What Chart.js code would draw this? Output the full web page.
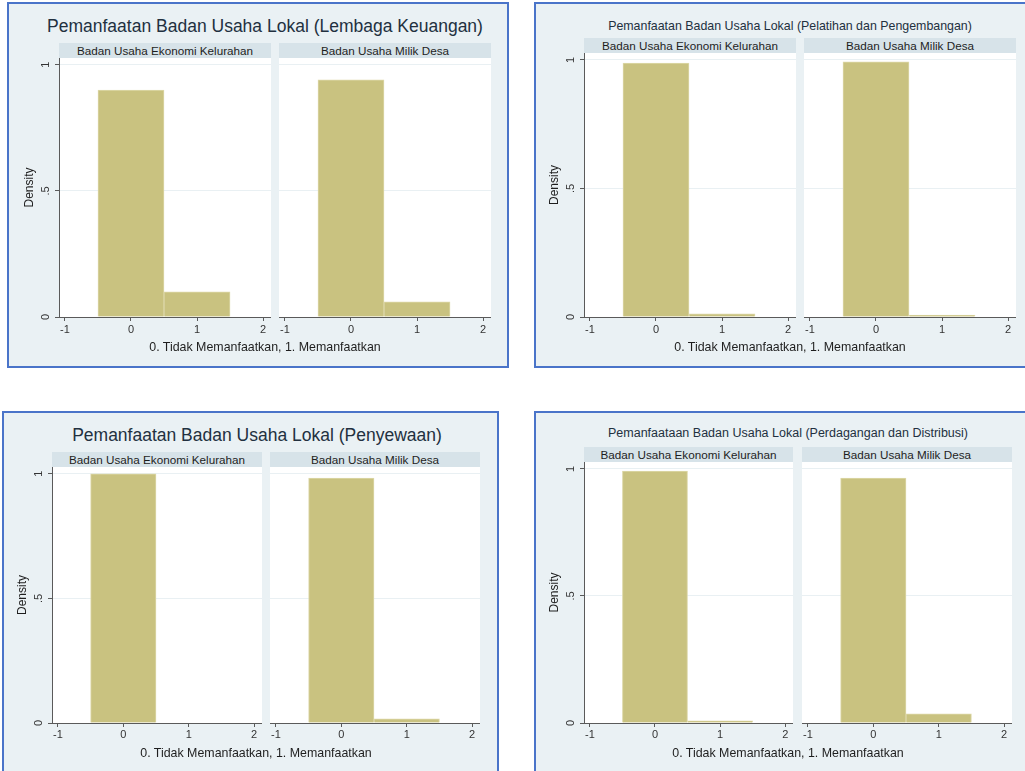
<!DOCTYPE html>
<html>
<head>
<meta charset="utf-8">
<script src="https://cdn.jsdelivr.net/npm/chart.js@4.4.1/dist/chart.umd.min.js"></script>
<style>
  html, body { margin: 0; padding: 0; background: #ffffff; }
  body { width: 1025px; height: 771px; position: relative; overflow: hidden;
         font-family: "Liberation Sans", Arial, sans-serif; }
  .panel { position: absolute; box-sizing: border-box; border: 2px solid #4a74c9; background: #eaf1f4; }
  .txt { position: absolute; white-space: nowrap; transform: translate(-50%, -50%); line-height: 1; }
  .title { color: #22303f; }
  .xtitle { color: #1e1e1e; font-size: 12.4px; }
  .strip { position: absolute; background: #d7e3e9; color: #1e1e1e; text-align: center;
           font-size: 11.7px; white-space: nowrap; }
  canvas { position: absolute; }
</style>
</head>
<body>
<script>
// ---- data -------------------------------------------------------------
const binCenters   = [0, 1];
const xTickValues  = [-1, 0, 1, 2];
const xTickLabels  = ['-1', '0', '1', '2'];
const yTickValues  = [0, 0.5, 1];
const yTickLabels  = ['0', '.5', '1'];
const groupNames   = ['Badan Usaha Ekonomi Kelurahan', 'Badan Usaha Milik Desa'];
const panelTitles  = [
  'Pemanfaatan Badan Usaha Lokal (Lembaga Keuangan)',
  'Pemanfaatan Badan Usaha Lokal (Pelatihan dan Pengembangan)',
  'Pemanfaatan Badan Usaha Lokal (Penyewaan)',
  'Pemanfaataan Badan Usaha Lokal (Perdagangan dan Distribusi)'
];
const xAxisTitle = '0. Tidak Memanfaatkan, 1. Memanfaatkan';
const yAxisTitle = 'Density';

// histogram density of each bin (0 = tidak, 1 = memanfaatkan)
const lembagaKeuanganKelurahan = [0.90, 0.10];
const lembagaKeuanganDesa      = [0.94, 0.06];
const pelatihanKelurahan       = [0.988, 0.012];
const pelatihanDesa            = [0.993, 0.007];
const penyewaanKelurahan       = [1.0, 0.0];
const penyewaanDesa            = [0.983, 0.017];
const perdaganganKelurahan     = [0.991, 0.009];
const perdaganganDesa          = [0.964, 0.036];

// ---- layout & style ---------------------------------------------------
const X_MIN = -1.09, X_MAX = 2.12;
const Y_MIN = 0, Y_MAX = 1.027;
const BAR_FILL = '#c9c280';
const BAR_EDGE = '#ddd8a9';
const AXIS = '#5a5a5a';
const GRID = '#e9f0f3';
const TICK_TEXT = '#333333';
const FONT = '"Liberation Sans", Arial, sans-serif';
const Y_AXIS_W = 37;
const X_AXIS_H = 24;

const panels = [
  { title: panelTitles[0], series: [lembagaKeuanganKelurahan, lembagaKeuanganDesa],
    box: [8, 3, 508, 367], titleAt: [265, 27], titleSize: 17.5,
    stripTop: 43, plotTop: 58, plotBottom: 317, cols: [[59, 271], [279, 491]],
    xTitleAt: [265, 347], tickPad: 2.5 },
  { title: panelTitles[1], series: [pelatihanKelurahan, pelatihanDesa],
    box: [535, 3, 1030, 367], titleAt: [790, 25.5], titleSize: 12.4,
    stripTop: 38, plotTop: 53, plotBottom: 317, cols: [[584, 796], [804, 1016]],
    xTitleAt: [790, 347], tickPad: 2.5 },
  { title: panelTitles[2], series: [penyewaanKelurahan, penyewaanDesa],
    box: [3, 412, 498, 780], titleAt: [257, 436], titleSize: 17.5,
    stripTop: 452, plotTop: 467, plotBottom: 723, cols: [[52, 262], [270, 480]],
    xTitleAt: [256, 753], tickPad: 1.5 },
  { title: panelTitles[3], series: [perdaganganKelurahan, perdaganganDesa],
    box: [535, 412, 1030, 780], titleAt: [788, 433], titleSize: 12.5,
    stripTop: 447, plotTop: 462, plotBottom: 723, cols: [[584, 793], [802, 1012]],
    xTitleAt: [788, 753], tickPad: 1.5 }
];

// white plot region behind the bars
const plotRegion = {
  id: 'plotRegion',
  beforeDraw(chart) {
    const { ctx, chartArea: a } = chart;
    ctx.save();
    ctx.fillStyle = '#ffffff';
    ctx.fillRect(a.left, a.top, a.right - a.left, a.bottom - a.top);
    ctx.restore();
  }
};

function addDiv(cls, text, css) {
  const d = document.createElement('div');
  d.className = cls;
  d.textContent = text;
  Object.assign(d.style, css);
  document.body.appendChild(d);
  return d;
}

function drawHistogram(panel, colIndex) {
  const [left, right] = panel.cols[colIndex];
  const withAxis = colIndex === 0;
  const canvasLeft = withAxis ? left - Y_AXIS_W : left;
  const w = right - canvasLeft;
  const h = panel.plotBottom - panel.plotTop + X_AXIS_H;

  const canvas = document.createElement('canvas');
  canvas.width = w; canvas.height = h;
  canvas.style.left = canvasLeft + 'px';
  canvas.style.top = panel.plotTop + 'px';
  canvas.style.width = w + 'px';
  canvas.style.height = h + 'px';
  document.body.appendChild(canvas);

  const values = panel.series[colIndex];
  new Chart(canvas, {
    type: 'bar',
    data: {
      datasets: [{
        data: binCenters.map((x, i) => ({ x: x, y: values[i] })),
        backgroundColor: BAR_FILL,
        borderColor: BAR_EDGE,
        borderWidth: 1,
        barPercentage: 1,
        categoryPercentage: 1
      }]
    },
    options: {
      responsive: false,
      animation: false,
      events: [],
      layout: { padding: 0 },
      plugins: { legend: { display: false }, tooltip: { enabled: false } },
      scales: {
        x: {
          type: 'linear', min: X_MIN, max: X_MAX, offset: false,
          afterBuildTicks: s => { s.ticks = xTickValues.map(v => ({ value: v })); },
          afterFit: s => { s.height = X_AXIS_H; s.paddingLeft = 0; s.paddingRight = 0; },
          grid: { drawOnChartArea: false, drawTicks: true, tickLength: 4, tickColor: AXIS, offset: false },
          border: { display: true, color: AXIS, width: 1 },
          ticks: {
            autoSkip: false, maxRotation: 0, padding: panel.tickPad, color: TICK_TEXT,
            font: { family: FONT, size: 11 },
            callback: v => xTickLabels[xTickValues.indexOf(v)]
          }
        },
        y: {
          type: 'linear', min: Y_MIN, max: Y_MAX,
          afterBuildTicks: s => { s.ticks = yTickValues.map(v => ({ value: v })); },
          afterFit: s => {
            s.width = withAxis ? Y_AXIS_W : 0;
            s.paddingTop = 0; s.paddingBottom = 0;
          },
          grid: {
            color: c => (c.tick && c.tick.value === 0) ? 'rgba(0,0,0,0)' : GRID,
            drawTicks: withAxis, tickLength: 4, tickColor: AXIS, lineWidth: 1
          },
          border: { display: withAxis, color: AXIS, width: 1 },
          ticks: {
            display: withAxis, minRotation: 90, maxRotation: 90, crossAlign: 'center',
            padding: 4, color: TICK_TEXT, font: { family: FONT, size: 11 },
            callback: v => yTickLabels[yTickValues.indexOf(v)]
          },
          title: {
            display: withAxis, text: yAxisTitle, padding: 0, color: '#1e1e1e',
            font: { family: FONT, size: 12 }
          }
        }
      }
    },
    plugins: [plotRegion]
  });
}

panels.forEach(p => {
  const [l, t, r, b] = p.box;
  addDiv('panel', '', { left: (l - 1) + 'px', top: (t - 1) + 'px',
                        width: (r - l + 2) + 'px', height: (b - t + 2) + 'px' });
  addDiv('txt title', p.title, { left: p.titleAt[0] + 'px', top: p.titleAt[1] + 'px',
                                 fontSize: p.titleSize + 'px' });
  p.cols.forEach((c, i) => {
    const sh = p.plotTop - p.stripTop;
    addDiv('strip', groupNames[i], { left: c[0] + 'px', top: p.stripTop + 'px',
                                     width: (c[1] - c[0]) + 'px', height: sh + 'px',
                                     lineHeight: sh + 'px' });
    drawHistogram(p, i);
  });
  addDiv('txt xtitle', xAxisTitle, { left: p.xTitleAt[0] + 'px', top: p.xTitleAt[1] + 'px' });
});
</script>
</body>
</html>
